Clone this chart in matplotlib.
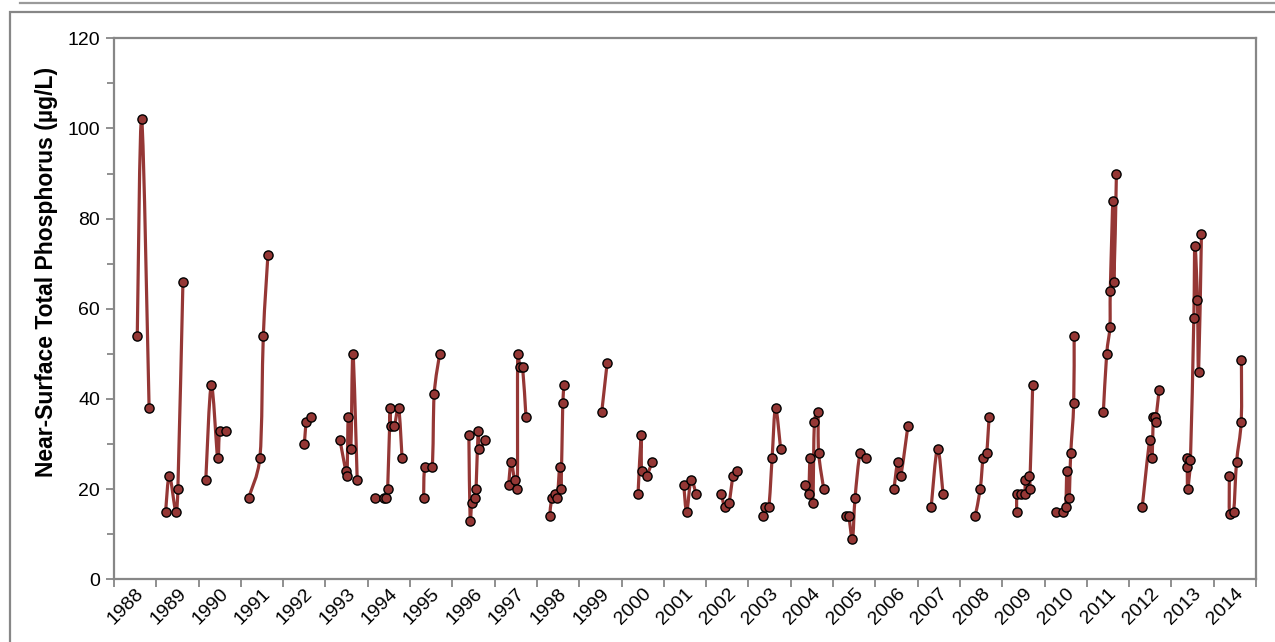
import numpy as np
import matplotlib
matplotlib.use("Agg")
import matplotlib.pyplot as plt
from matplotlib.path import Path
from matplotlib.patches import PathPatch, Rectangle
from matplotlib.lines import Line2D
from matplotlib.ticker import FixedLocator, NullFormatter, FixedFormatter

plt.rcParams['font.family'] = ['Liberation Sans', 'DejaVu Sans']

# ---- data (decimal year, µg/L) ----
dates = [
    1988.55, 1988.655, 1988.83,
    1989.22, 1989.31, 1989.46, 1989.51, 1989.63,
    1990.17, 1990.30, 1990.45, 1990.50, 1990.65,
    1991.18, 1991.45, 1991.53, 1991.64,
    1992.50, 1992.55, 1992.65,
    1993.34, 1993.48, 1993.51, 1993.54, 1993.60, 1993.65, 1993.75,
    1994.17, 1994.39, 1994.44, 1994.47, 1994.53, 1994.54, 1994.63, 1994.73, 1994.81,
    1995.32, 1995.35, 1995.52, 1995.57, 1995.70,
    1996.39, 1996.42, 1996.46, 1996.53, 1996.56, 1996.61, 1996.64, 1996.78,
    1997.33, 1997.39, 1997.47, 1997.535, 1997.545, 1997.60, 1997.66, 1997.74,
    1998.30, 1998.35, 1998.43, 1998.48, 1998.54, 1998.57, 1998.61, 1998.64,
    1999.53, 1999.66,
    2000.39, 2000.465, 2000.475, 2000.59, 2000.72,
    2001.47, 2001.54, 2001.64, 2001.76,
    2002.36, 2002.44, 2002.54, 2002.64, 2002.74,
    2003.34, 2003.38, 2003.48, 2003.56, 2003.64, 2003.76,
    2004.33, 2004.42, 2004.46, 2004.52, 2004.56, 2004.64, 2004.66, 2004.78,
    2005.31, 2005.37, 2005.46, 2005.52, 2005.64, 2005.77,
    2006.44, 2006.53, 2006.60, 2006.77,
    2007.32, 2007.47, 2007.60,
    2008.36, 2008.48, 2008.55, 2008.63, 2008.69,
    2009.34, 2009.35, 2009.44, 2009.53, 2009.55, 2009.63, 2009.65, 2009.72,
    2010.27, 2010.43, 2010.50, 2010.53, 2010.58, 2010.62, 2010.69, 2010.70,
    2011.39, 2011.47, 2011.545, 2011.555, 2011.62, 2011.64, 2011.70,
    2012.31, 2012.49, 2012.54, 2012.575, 2012.62, 2012.625, 2012.71,
    2013.37, 2013.375, 2013.385, 2013.45, 2013.53, 2013.555, 2013.615, 2013.643, 2013.71,
    2014.37, 2014.375, 2014.47, 2014.54, 2014.65, 2014.655,
]
phosphorus = [
    54, 102, 38,
    15, 23, 15, 20, 66,
    22, 43, 27, 33, 33,
    18, 27, 54, 72,
    30, 35, 36,
    31, 24, 23, 36, 29, 50, 22,
    18, 18, 18, 20, 38, 34, 34, 38, 27,
    18, 25, 25, 41, 50,
    32, 13, 17, 18, 20, 33, 29, 31,
    21, 26, 22, 20, 50, 47, 47, 36,
    14, 18, 19, 18, 25, 20, 39, 43,
    37, 48,
    19, 32, 24, 23, 26,
    21, 15, 22, 19,
    19, 16, 17, 23, 24,
    14, 16, 16, 27, 38, 29,
    21, 19, 27, 17, 35, 37, 28, 20,
    14, 14, 9, 18, 28, 27,
    20, 26, 23, 34,
    16, 29, 19,
    14, 20, 27, 28, 36,
    15, 19, 19, 19, 22, 23, 20, 43,
    15, 15, 16, 24, 18, 28, 39, 54,
    37, 50, 56, 64, 84, 66, 90,
    16, 31, 27, 36, 36, 35, 42,
    27, 25, 20, 26.4, 58, 74, 62, 46, 76.6,
    23, 14.5, 15, 26, 35, 48.7,
]
years = list(range(1988, 2015))
year_labels = [str(y) for y in years]

LINE_COLOR = '#953735'
GRAY = '#878787'

fig = plt.figure(figsize=(12.75, 6.42), dpi=100)
W, H = 1275, 642
ax = fig.add_axes([114 / W, 1 - 579.3 / H, (1256 - 114) / W, (579.3 - 38.3) / H])

# outer chart frame
fig.patches.append(Rectangle((10 / W, -0.05), 1.2, 1 - 12 / H + 0.05, transform=fig.transFigure,
                             fill=False, edgecolor=GRAY, linewidth=1.6, zorder=0))
fig.add_artist(Line2D([20 / W, 1.0], [1 - 3 / H, 1 - 3 / H], transform=fig.transFigure,
                      color='#9a9a9a', linewidth=1.6))

ax.set_xlim(1988, 2015)
ax.set_ylim(0, 120)

x = np.asarray(dates, dtype=float)
yv = np.asarray(phosphorus, dtype=float)
groups = np.floor(x).astype(int)

# display scale (pixels per data unit) so smoothing behaves like the screen curve
sx = (1256 - 114) / 27.0
sy = (579.3 - 38.3) / 120.0
CLAMP = 0.45


def smooth_path(px, py):
    pts = np.column_stack([px * sx, py * sy])
    n = len(pts)
    if n == 1:
        return None
    verts = [pts[0]]
    codes = [Path.MOVETO]
    if n == 2:
        verts.append(pts[1])
        codes.append(Path.LINETO)
    else:
        for i in range(n - 1):
            p0 = pts[i - 1] if i > 0 else pts[i]
            p1 = pts[i]
            p2 = pts[i + 1]
            p3 = pts[i + 2] if i + 2 < n else pts[i + 1]
            seg = np.hypot(*(p2 - p1))
            t1 = (p2 - p0) / 6.0
            t2 = (p3 - p1) / 6.0
            for t in (t1, t2):
                L = np.hypot(*t)
                if L > CLAMP * seg and L > 0:
                    t *= CLAMP * seg / L
            verts.extend([p1 + t1, p2 - t2, p2])
            codes.extend([Path.CURVE4] * 3)
    verts = np.array(verts)
    verts[:, 0] /= sx
    verts[:, 1] /= sy
    return Path(verts, codes)


for g in np.unique(groups):
    m = groups == g
    path = smooth_path(x[m], yv[m])
    if path is not None:
        ax.add_patch(PathPatch(path, facecolor='none', edgecolor=LINE_COLOR,
                               linewidth=2.3, capstyle='round', joinstyle='round', zorder=2))

ax.plot(x, yv, linestyle='none', marker='o', markersize=6.6,
        markerfacecolor=LINE_COLOR, markeredgecolor='black', markeredgewidth=1.0, zorder=3)

# x ticks: marks at year boundaries, labels mid-year
ax.xaxis.set_major_locator(FixedLocator(list(range(1988, 2016))))
ax.xaxis.set_major_formatter(NullFormatter())
ax.xaxis.set_minor_locator(FixedLocator([y + 0.5 for y in years]))
ax.xaxis.set_minor_formatter(FixedFormatter(year_labels))
ax.tick_params(axis='x', which='major', direction='out', length=6, width=1.3, color=GRAY)
ax.tick_params(axis='x', which='minor', length=0, pad=4, labelsize=14)
for lbl in ax.xaxis.get_minorticklabels():
    lbl.set_rotation(45)
    lbl.set_ha('right')
    lbl.set_va('top')
    lbl.set_rotation_mode('anchor')

ax.yaxis.set_major_locator(FixedLocator(list(range(0, 121, 20))))
ax.yaxis.set_minor_locator(FixedLocator(list(range(10, 120, 20))))
ax.tick_params(axis='y', which='major', direction='out', length=6, width=1.3, color=GRAY,
               labelsize=14, pad=4)
ax.tick_params(axis='y', which='minor', direction='out', length=5, width=1.3, color=GRAY)

for s in ax.spines.values():
    s.set_color(GRAY)
    s.set_linewidth(1.6)

ax.set_ylabel('Near-Surface Total Phosphorus (µg/L)', fontsize=16.5, fontweight='bold')
ax.yaxis.set_label_coords((58 - 114) / (1256 - 114), (579.3 - 272) / (579.3 - 38.3))

fig.savefig('out.png', dpi=100)
